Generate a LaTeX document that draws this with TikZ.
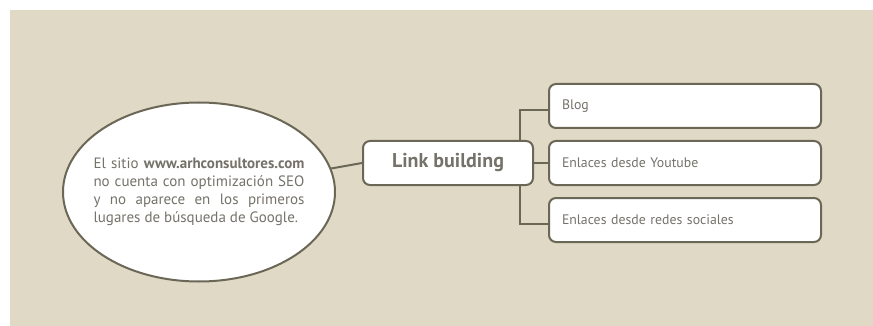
\documentclass[tikz,border=0pt]{standalone}
\usepackage{fontspec}
\setmainfont{PT Sans}
\usepackage{xcolor}
\usetikzlibrary{shapes.geometric, positioning}

\definecolor{bgbeige}{HTML}{E0D9C5}
\definecolor{edgegray}{HTML}{6B6757}
\definecolor{textgray}{HTML}{75726A}

\begin{document}
\begin{tikzpicture}[
        x=1pt, y=-1pt,
        node distance=11pt,
        idea/.style={ellipse, draw=edgegray, line width=2pt, fill=white, minimum width=272pt, minimum height=179pt, inner xsep=-10pt, inner ysep=0pt},
        topic/.style={rectangle, rounded corners=7pt, draw=edgegray, line width=2pt, fill=white, minimum width=170pt, minimum height=44pt, font=\fontsize{20}{22}\selectfont\bfseries, text=textgray},
        leaf/.style={rectangle, rounded corners=7pt, draw=edgegray, line width=2pt, fill=white, text width=246pt, inner xsep=13pt, minimum height=44pt, align=left, font=\fontsize{13.8}{16}\selectfont, text=textgray},
        link/.style={draw=edgegray, line width=2pt}
    ]
        \useasboundingbox (0,0) rectangle (873,326);
        \fill[bgbeige] (10,10) rectangle (873,326);

        \node[idea, text=textgray, font=\fontsize{15}{18}\selectfont, align=left] (idea) at (199,192) {%
            \makebox[211pt][s]{El sitio \textbf{www.arhconsultores.com}}\\
            \makebox[211pt][s]{no cuenta con optimización SEO}\\
            \makebox[211pt][s]{y no aparece en los primeros}\\
            \makebox[211pt][l]{lugares de búsqueda de Google.}};
        \node[topic] (lb) at (448,163) {Link building};
        \node[leaf, right=14pt of lb] (yt) {Enlaces desde Youtube};
        \node[leaf, above=of yt] (blog) {Blog};
        \node[leaf, below=of yt] (redes) {Enlaces desde redes sociales};

        % Branches
        \coordinate (spine) at (520,0);
        \draw[link] (idea) -- (lb.west);
        \draw[link] (lb.north -| spine) |- ([yshift=-4pt]blog.west);
        \draw[link] (lb.east) -- (yt.west);
        \draw[link] (lb.south -| spine) |- ([yshift=-4pt]redes.west);

    \end{tikzpicture}
\end{document}
